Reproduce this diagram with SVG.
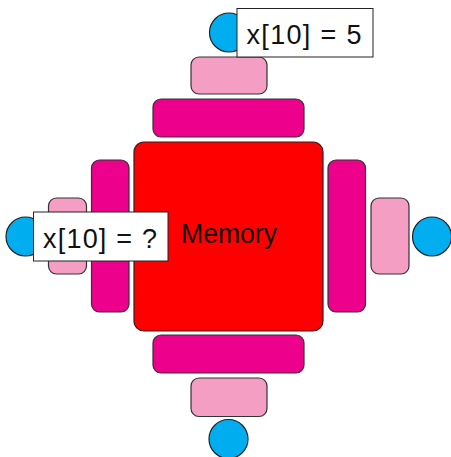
<svg xmlns="http://www.w3.org/2000/svg" width="451" height="457" viewBox="0 0 451 457">
  <style>
    .mem { fill: #ff0000; stroke: #3a1a1a; stroke-width: 1.2; }
    .mag { fill: #ec008c; stroke: #333333; stroke-width: 1.2; }
    .pink { fill: #f49ec4; stroke: #333333; stroke-width: 1.2; }
    .cpu { fill: #00aeef; stroke: #222222; stroke-width: 1.2; }
    .box { fill: #ffffff; stroke: #222222; stroke-width: 1; }
    .lbl { font-family: "Liberation Sans", Arial, sans-serif; font-size: 27px; fill: #111111; }
  </style>

  <g id="connectors"></g>

  <!-- central memory block -->
  <g id="memory">
    <rect class="mem" x="134" y="142" width="189" height="189" rx="10"/>
  </g>

  <!-- first-level caches (magenta) -->
  <g id="cache-top"><rect class="mag" x="153" y="99" width="151" height="38" rx="8"/></g>
  <g id="cache-bottom"><rect class="mag" x="153" y="335" width="151" height="38" rx="8"/></g>
  <g id="cache-left"><rect class="mag" x="91.5" y="160" width="37.5" height="152" rx="8"/></g>
  <g id="cache-right"><rect class="mag" x="328" y="160" width="37.5" height="152" rx="8"/></g>

  <!-- second-level caches (pink) -->
  <g id="l1-top"><rect class="pink" x="191" y="57" width="76" height="37" rx="8"/></g>
  <g id="l1-bottom"><rect class="pink" x="191" y="378" width="76" height="38.5" rx="8"/></g>
  <g id="l1-left"><rect class="pink" x="48.5" y="198" width="38" height="76" rx="8"/></g>
  <g id="l1-right"><rect class="pink" x="371" y="198" width="38" height="76" rx="8"/></g>

  <!-- processors -->
  <g id="cpu-top"><circle class="cpu" cx="229" cy="32.5" r="19.5"/></g>
  <g id="cpu-bottom"><circle class="cpu" cx="228.5" cy="439" r="19.5"/></g>
  <g id="cpu-left"><circle class="cpu" cx="25.5" cy="236.5" r="19.5"/></g>
  <g id="cpu-right"><circle class="cpu" cx="432" cy="236.5" r="19.5"/></g>

  <g id="memory-label">
    <text class="lbl" x="181" y="242.5" textLength="96" lengthAdjust="spacingAndGlyphs">Memory</text>
  </g>

  <!-- value annotations -->
  <g id="note-top">
    <rect class="box" x="237" y="8.5" width="136" height="48.5"/>
    <text class="lbl" x="246.5" y="43.5" textLength="115" lengthAdjust="spacing">x[10] = 5</text>
  </g>
  <g id="note-left">
    <rect class="box" x="33.5" y="212" width="134.5" height="49"/>
    <text class="lbl" x="43" y="247.5" textLength="114" lengthAdjust="spacing">x[10] = ?</text>
  </g>
</svg>
